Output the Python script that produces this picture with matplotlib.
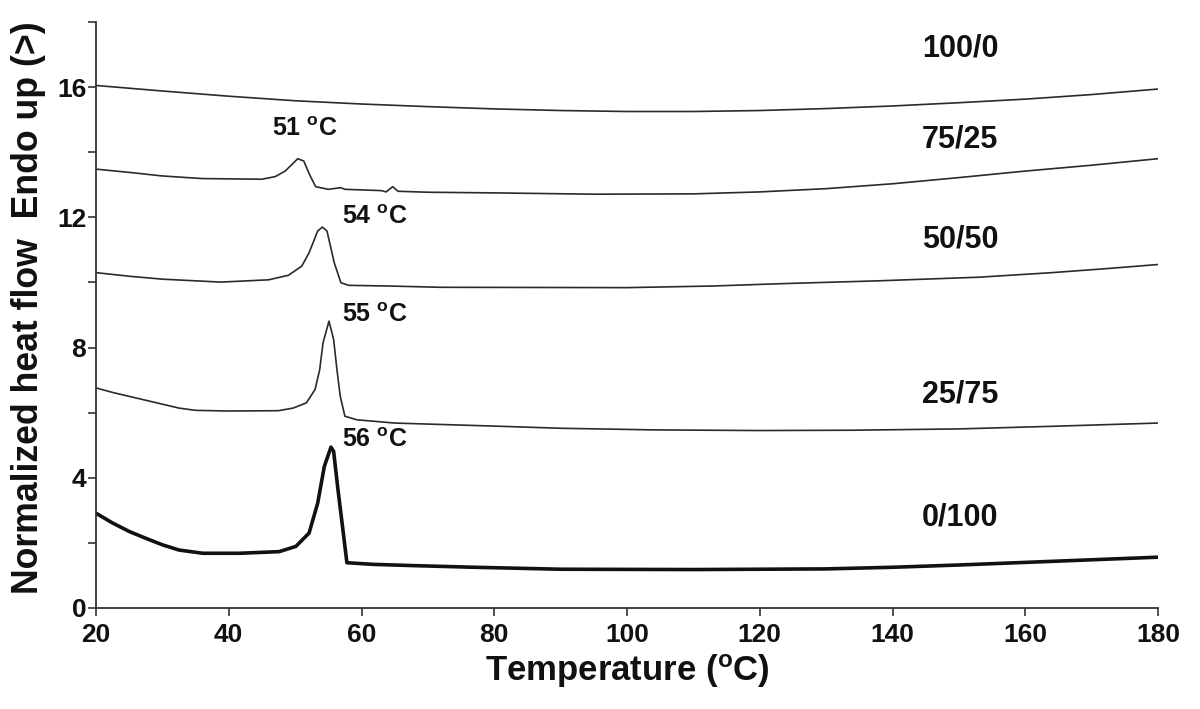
import matplotlib
matplotlib.use("Agg")
import matplotlib.pyplot as plt
from matplotlib.ticker import MultipleLocator

# ---------------- data ----------------
t_100_0 = [20, 30, 40, 50, 60, 70, 80, 90, 100, 110, 120, 130, 140, 150, 160, 170, 180]
y_100_0 = [16.05, 15.88, 15.72, 15.58, 15.48, 15.40, 15.33, 15.28, 15.25, 15.25, 15.28, 15.34, 15.42, 15.52,
           15.63, 15.77, 15.94]

t_75_25 = [20, 25, 30, 36, 45, 47, 48.5, 49.5, 50.4, 51.3, 52.2, 53.1, 55.0, 56.9, 57.5, 63.0, 63.7, 64.7, 65.5,
           70, 80, 95, 110, 120, 130, 140, 150, 160, 170, 180]
y_75_25 = [13.48, 13.38, 13.27, 13.19, 13.17, 13.25, 13.42, 13.62, 13.80, 13.73, 13.30, 12.94, 12.86, 12.91, 12.86,
           12.82, 12.78, 12.94, 12.80, 12.77, 12.75, 12.71, 12.72, 12.78, 12.88, 13.03, 13.22, 13.42, 13.60, 13.80]

t_50_50 = [20, 25, 30, 38.8, 46, 49, 51, 52.1, 53.4, 54.1, 54.8, 55.9, 56.9, 58.1, 64, 72, 100, 113, 123,
           138, 153, 164, 172, 180]
y_50_50 = [10.30, 10.19, 10.10, 10.01, 10.08, 10.22, 10.50, 10.91, 11.58, 11.70, 11.58, 10.60, 9.99, 9.91, 9.89,
           9.85, 9.84, 9.89, 9.96, 10.05, 10.16, 10.30, 10.42, 10.55]

t_25_75 = [20, 22.5, 25, 27.5, 30, 32.5, 35, 40, 47.5, 49.7, 51.7, 53.0, 53.7, 54.2, 55.1, 55.8, 56.3, 56.8, 57.5,
           59.3, 65, 81, 90, 104, 120, 134, 150, 164, 180]
y_25_75 = [6.76, 6.62, 6.50, 6.38, 6.26, 6.14, 6.07, 6.05, 6.06, 6.14, 6.30, 6.71, 7.32, 8.14, 8.81, 8.25, 7.32,
           6.50, 5.89, 5.78, 5.68, 5.58, 5.52, 5.47, 5.45, 5.46, 5.50, 5.58, 5.68]

t_0_100 = [20, 22.5, 25, 27.5, 30, 32.5, 36.1, 41.6, 47.6, 50.1, 52.1, 53.4, 54.4, 55.4, 55.8, 56.4, 57.2, 57.8,
           61.7, 68, 77, 90, 110, 130, 140, 150, 160, 170, 180]
y_0_100 = [2.91, 2.61, 2.35, 2.14, 1.94, 1.78, 1.68, 1.68, 1.73, 1.89, 2.30, 3.22, 4.35, 4.94, 4.81, 3.73, 2.40, 1.39,
           1.34, 1.30, 1.25, 1.19, 1.18, 1.20, 1.25, 1.32, 1.40, 1.48, 1.56]

series_labels = ["100/0", "75/25", "50/50", "25/75", "0/100"]
series_label_y = [17.17, 14.4, 11.32, 6.55, 2.77]
peak_labels = ["51", "54", "55", "56"]
peak_label_x = [46.5, 57.1, 57.1, 57.1]
peak_label_y = [14.7, 12.0, 9.0, 5.17]

xticks = [20, 40, 60, 80, 100, 120, 140, 160, 180]
yticks = [0, 4, 8, 12, 16]

# ---------------- style ----------------
plt.rcParams["font.family"] = ["Liberation Sans", "DejaVu Sans"]
plt.rcParams["font.weight"] = "bold"
plt.rcParams["mathtext.fontset"] = "custom"
plt.rcParams["mathtext.rm"] = "Liberation Sans:bold"
plt.rcParams["mathtext.it"] = "Liberation Sans:bold"
plt.rcParams["mathtext.bf"] = "Liberation Sans:bold"

fig = plt.figure(figsize=(12, 7.09), dpi=100)
ax = fig.add_axes([0.08, 0.1425, 0.885, 0.8265])

lc = "#2a2a2a"
ax.plot(t_100_0, y_100_0, color=lc, lw=1.2)
ax.plot(t_75_25, y_75_25, color=lc, lw=1.2)
ax.plot(t_50_50, y_50_50, color=lc, lw=1.2)
ax.plot(t_25_75, y_25_75, color=lc, lw=1.2)
ax.plot(t_0_100, y_0_100, color="#111111", lw=2.6)

for lab, yy in zip(series_labels, series_label_y):
    ax.text(150.2, yy, lab, fontsize=22, fontweight="bold", ha="center", va="center", color="#111111")

for lab, xx, yy in zip(peak_labels, peak_label_x, peak_label_y):
    ax.text(xx, yy, lab + r" $^{\mathrm{o}}$C", fontsize=18, fontweight="bold", ha="left", va="center",
            color="#111111")

ax.set_xlim(20, 180)
ax.set_ylim(0, 18)
ax.set_xticks(xticks)
ax.set_yticks(yticks)
ax.yaxis.set_minor_locator(MultipleLocator(2))
for s in ["top", "right"]:
    ax.spines[s].set_visible(False)
for s in ["left", "bottom"]:
    ax.spines[s].set_linewidth(1.3)
    ax.spines[s].set_color("#333333")
ax.tick_params(axis="both", which="both", direction="out", length=6, width=1.2, colors="#333333",
               labelcolor="#111111", labelsize=19)
ax.tick_params(axis="x", pad=5)
ax.tick_params(axis="y", pad=1)
for lbl in ax.get_xticklabels() + ax.get_yticklabels():
    lbl.set_fontweight("bold")

ax.set_xlabel(r"Temperature ($^{\mathrm{o}}$C)", fontsize=25, fontweight="bold", labelpad=4, color="#111111")
ax.set_ylabel("Normalized heat flow  Endo up (>)", fontsize=25.7, fontweight="bold", color="#111111")
ax.yaxis.set_label_coords(-0.047, 0.513)

fig.savefig("out.png", dpi=100, facecolor="white")
